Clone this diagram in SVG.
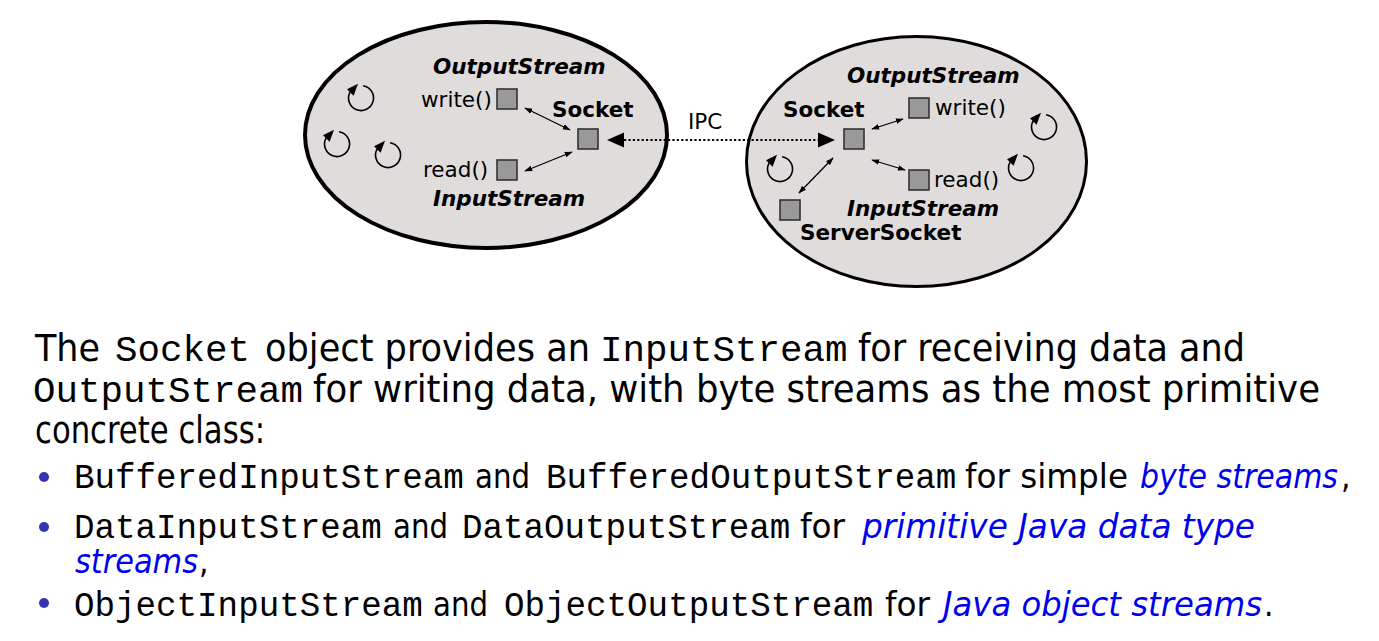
<svg xmlns="http://www.w3.org/2000/svg" width="1379" height="641" viewBox="0 0 1379 641">
<style>
.ell{fill:#e1dcdc;stroke:#000}
.sq{fill:#999;stroke:#333;stroke-width:1.6}
.lbl{font-family:"DejaVu Sans",sans-serif;font-size:21.5px;fill:#000}
.b{font-weight:bold}
.bi{font-weight:bold;font-style:italic}
.dbl{stroke:#000;stroke-width:1.3;fill:none;marker-start:url(#ah);marker-end:url(#ah)}
.sans{font-family:"DejaVu Sans Condensed","DejaVu Sans",sans-serif;fill:#000}
.mono{font-family:"Liberation Mono",monospace;fill:#000}
.p{font-size:37px}
.mono.p{font-size:37.5px}
.s{font-size:33px}
.mono.s{font-size:34.2px}
.em{font-style:italic;fill:#0000f0}
.bul{fill:#3333b3}
</style>
<defs>
<marker id="ah" viewBox="0 0 10 8" refX="9" refY="4" markerWidth="8" markerHeight="6.4" markerUnits="userSpaceOnUse" orient="auto-start-reverse">
<path d="M0,0.5 L10,4 L0,7.5 z" fill="#000"/>
</marker>
<g id="cyc">
<path d="M2.1,-12.3 A12.5,12.5 0 1 1 -10.8,-6.2" fill="none" stroke="#000" stroke-width="1.6"/>
<polygon points="-14,-8.8 -3,-14.2 -7.4,-2.3" fill="#000"/>
</g>
</defs>

<g id="process-left">
<ellipse class="ell" cx="486" cy="135" rx="181" ry="113" stroke-width="4"/>
<use href="#cyc" x="361" y="98"/>
<use href="#cyc" x="337" y="144"/>
<use href="#cyc" x="388" y="155"/>
</g>
<g id="process-right">
<ellipse class="ell" cx="916.5" cy="161.5" rx="170" ry="125" stroke-width="3"/>
<use href="#cyc" x="780" y="169"/>
<use href="#cyc" x="1044" y="127"/>
<use href="#cyc" x="1021" y="168"/>
</g>

<g id="left-output">
<text class="lbl bi" x="433" y="74">OutputStream</text>
<text class="lbl" x="421" y="107">write()</text>
<rect class="sq" x="497" y="89" width="20" height="20"/>
</g>
<g id="left-socket">
<text class="lbl b" x="552" y="117">Socket</text>
<rect class="sq" x="578" y="129" width="20" height="20"/>
</g>
<g id="left-input">
<text class="lbl" x="423" y="177">read()</text>
<rect class="sq" x="497" y="160" width="20" height="20"/>
<text class="lbl bi" x="433" y="206">InputStream</text>
</g>

<g id="right-socket">
<text class="lbl b" x="783" y="117">Socket</text>
<rect class="sq" x="844" y="129" width="20" height="20"/>
</g>
<g id="right-output">
<text class="lbl bi" x="847" y="83">OutputStream</text>
<rect class="sq" x="909" y="98" width="20" height="20"/>
<text class="lbl" x="935" y="115">write()</text>
</g>
<g id="right-input">
<rect class="sq" x="909" y="170" width="20" height="20"/>
<text class="lbl" x="934" y="187">read()</text>
<text class="lbl bi" x="847" y="216">InputStream</text>
</g>
<g id="right-serversocket">
<rect class="sq" x="780" y="200" width="20" height="20"/>
<text class="lbl b" x="800" y="240">ServerSocket</text>
</g>

<g id="connectors">
<line class="dbl" x1="525" y1="108" x2="570" y2="130"/>
<line class="dbl" x1="525" y1="171" x2="572" y2="152"/>
<line class="dbl" x1="872" y1="129" x2="903" y2="119"/>
<line class="dbl" x1="872" y1="160" x2="905" y2="170"/>
<line class="dbl" x1="833" y1="158" x2="799" y2="193"/>
<line x1="624" y1="140" x2="818" y2="140" stroke="#000" stroke-width="2.2" stroke-dasharray="2.2 2.2"/>
<polygon points="607,140 624,132.5 624,147.5" fill="#000"/>
<polygon points="835,140 818,132.5 818,147.5" fill="#000"/>
<text class="lbl" x="688" y="129">IPC</text>
</g>

<g id="body-text">
<text class="sans p" x="35" y="361" textLength="65" lengthAdjust="spacingAndGlyphs">The</text>
<text class="mono p" x="115" y="361">Socket</text>
<text class="sans p" x="265" y="361" textLength="325" lengthAdjust="spacingAndGlyphs">object provides an</text>
<text class="mono p" x="600" y="361">InputStream</text>
<text class="sans p" x="858" y="361" textLength="387" lengthAdjust="spacingAndGlyphs">for receiving data and</text>

<text class="mono p" x="33" y="402">OutputStream</text>
<text class="sans p" x="313" y="402" textLength="1007" lengthAdjust="spacingAndGlyphs">for writing data, with byte streams as the most primitive</text>

<text class="sans p" x="35" y="443" textLength="230" lengthAdjust="spacingAndGlyphs">concrete class:</text>

<circle class="bul" cx="44" cy="477" r="5"/>
<text class="mono s" x="74" y="488">BufferedInputStream</text>
<text class="sans s" x="475" y="488" textLength="55" lengthAdjust="spacingAndGlyphs">and</text>
<text class="mono s" x="546" y="488">BufferedOutputStream</text>
<text class="sans s" x="965" y="488" textLength="163" lengthAdjust="spacingAndGlyphs">for simple</text>
<text class="sans s em" x="1140" y="488" textLength="198" lengthAdjust="spacingAndGlyphs">byte streams</text>
<text class="sans s" x="1341" y="488">,</text>

<circle class="bul" cx="44" cy="527" r="5"/>
<text class="mono s" x="74" y="538">DataInputStream</text>
<text class="sans s" x="393" y="538" textLength="55" lengthAdjust="spacingAndGlyphs">and</text>
<text class="mono s" x="462" y="538">DataOutputStream</text>
<text class="sans s" x="800" y="538" textLength="45" lengthAdjust="spacingAndGlyphs">for</text>
<text class="sans s em" x="862" y="538" textLength="393" lengthAdjust="spacingAndGlyphs">primitive Java data type</text>
<text class="sans s em" x="75" y="573" textLength="123" lengthAdjust="spacingAndGlyphs">streams</text>
<text class="sans s" x="199" y="573">,</text>

<circle class="bul" cx="44" cy="603" r="5"/>
<text class="mono s" x="74" y="616">ObjectInputStream</text>
<text class="sans s" x="433" y="616" textLength="55" lengthAdjust="spacingAndGlyphs">and</text>
<text class="mono s" x="504" y="616">ObjectOutputStream</text>
<text class="sans s" x="885" y="616" textLength="45" lengthAdjust="spacingAndGlyphs">for</text>
<text class="sans s em" x="943" y="616" textLength="319" lengthAdjust="spacingAndGlyphs">Java object streams</text>
<text class="sans s" x="1264" y="616">.</text>
</g>
</svg>
